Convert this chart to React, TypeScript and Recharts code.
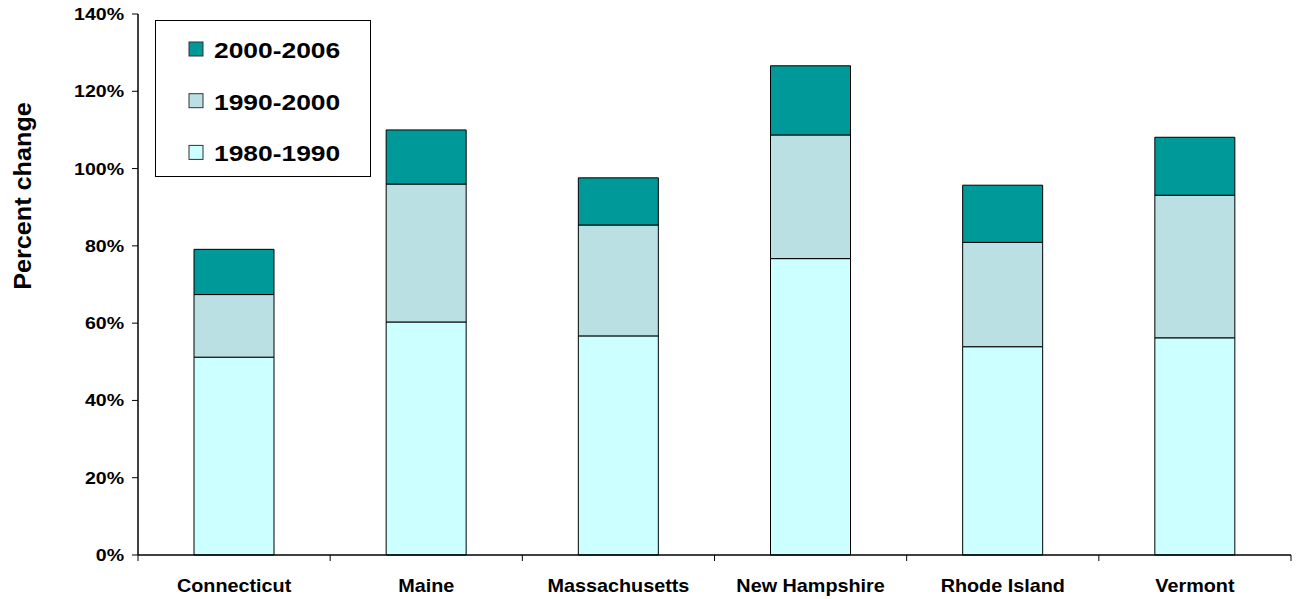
import React from 'react';
import { BarChart, Bar, XAxis, YAxis, Legend } from 'recharts';

const states = ['Connecticut', 'Maine', 'Massachusetts', 'New Hampshire', 'Rhode Island', 'Vermont'];
const change1980to1990 = [51.2, 60.3, 56.7, 76.7, 53.9, 56.2];
const change1990to2000 = [16.2, 35.7, 28.7, 32.0, 27.0, 36.9];
const change2000to2006 = [11.7, 14.0, 12.2, 17.9, 14.8, 15.0];
const yTicks = [0, 20, 40, 60, 80, 100, 120, 140];

const seriesInfo = [
  { key: 'p3', name: '2000-2006', color: '#009999' },
  { key: 'p2', name: '1990-2000', color: '#BBE0E3' },
  { key: 'p1', name: '1980-1990', color: '#CCFFFF' },
];

const data = states.map((s, i) => ({
  state: s,
  p1: change1980to1990[i],
  p2: change1990to2000[i],
  p3: change2000to2006[i],
}));

const FONT = '"Liberation Sans", Arial, Helvetica, sans-serif';

const YTick = (props: any) => {
  const { x, y, payload } = props;
  return (
    <g transform={`translate(${x},${y + 6}) scale(1.15,1)`}>
      <text x={0} y={0} textAnchor="end" fontFamily={FONT} fontWeight="bold" fontSize={17} fill="#000">
        {`${payload.value}%`}
      </text>
    </g>
  );
};

const XTick = (props: any) => {
  const { x, y, payload, index, width, visibleTicksCount } = props;
  const count = visibleTicksCount || states.length;
  const half = width && count ? width / count / 2 : 96;
  const axisY = y - 8;
  return (
    <g>
      <line x1={x - half} x2={x - half} y1={axisY} y2={axisY + 6} stroke="#000" strokeWidth={1} />
      {index === count - 1 && (
        <line x1={x + half} x2={x + half} y1={axisY} y2={axisY + 6} stroke="#000" strokeWidth={1} />
      )}
      <g transform={`translate(${x},${axisY + 37}) scale(1.1,1)`}>
        <text x={0} y={0} textAnchor="middle" fontFamily={FONT} fontWeight="bold" fontSize={18} fill="#000">
          {payload.value}
        </text>
      </g>
    </g>
  );
};

const LegendContent = () => (
  <svg width={214} height={155} style={{ display: 'block' }}>
    {seriesInfo.map((s, i) => (
      <g key={s.key}>
        <rect x={33} y={21 + i * 51.7} width={14} height={14} fill={s.color} stroke="#333" strokeWidth={1} />
        <g transform={`translate(58,${37 + i * 51.7}) scale(1.2,1)`}>
          <text x={0} y={0} fontFamily={FONT} fontWeight="bold" fontSize={22} fill="#000">
            {s.name}
          </text>
        </g>
      </g>
    ))}
  </svg>
);

const YLabel = () => (
  <g transform="translate(31,196) rotate(-90) scale(1.05,1)">
    <text x={0} y={0} textAnchor="middle" fontFamily={FONT} fontWeight="bold" fontSize={24} fill="#000">
      Percent change
    </text>
  </g>
);

export default function App() {
  return (
    <div style={{ width: 1299, height: 599, background: '#fff' }}>
      <style>{`body{margin:0;}`}</style>
      <BarChart
        width={1299}
        height={599}
        data={data}
        margin={{ top: 14, right: 8, bottom: 0, left: 0 }}
        style={{ fontFamily: FONT }}
      >
        <XAxis
          dataKey="state"
          height={44}
          tickLine={false}
          tickSize={6}
          tickMargin={2}
          axisLine={{ stroke: '#000', strokeWidth: 1.5 }}
          tick={<XTick />}
          interval={0}
        />
        <XAxis
          xAxisId="top"
          orientation="top"
          dataKey="state"
          height={0}
          tick={false}
          tickLine={false}
          axisLine={{ stroke: '#000', strokeWidth: 1 }}
        />
        <YAxis
          width={138}
          domain={[0, 140]}
          ticks={yTicks}
          interval={0}
          tickSize={6}
          tickMargin={8}
          tickLine={{ stroke: '#000' }}
          axisLine={{ stroke: '#000', strokeWidth: 1.5 }}
          tick={<YTick />}
          label={<YLabel />}
        />
        <YAxis
          yAxisId="right"
          orientation="right"
          width={0}
          domain={[0, 140]}
          tick={false}
          tickLine={false}
          axisLine={{ stroke: '#808080', strokeWidth: 2 }}
        />
        <Legend
          layout="vertical"
          align="center"
          verticalAlign="middle"
          content={<LegendContent />}
          wrapperStyle={{
            left: 155,
            top: 20,
            width: 216,
            height: 157,
            border: '1px solid #000',
            background: '#fff',
            boxSizing: 'border-box',
          }}
        />
        <Bar dataKey="p1" name="1980-1990" stackId="s" fill="#CCFFFF" stroke="#000" strokeWidth={1} barSize={80} isAnimationActive={false} />
        <Bar dataKey="p2" name="1990-2000" stackId="s" fill="#BBE0E3" stroke="#000" strokeWidth={1} barSize={80} isAnimationActive={false} />
        <Bar dataKey="p3" name="2000-2006" stackId="s" fill="#009999" stroke="#000" strokeWidth={1} barSize={80} isAnimationActive={false} />
      </BarChart>
    </div>
  );
}
